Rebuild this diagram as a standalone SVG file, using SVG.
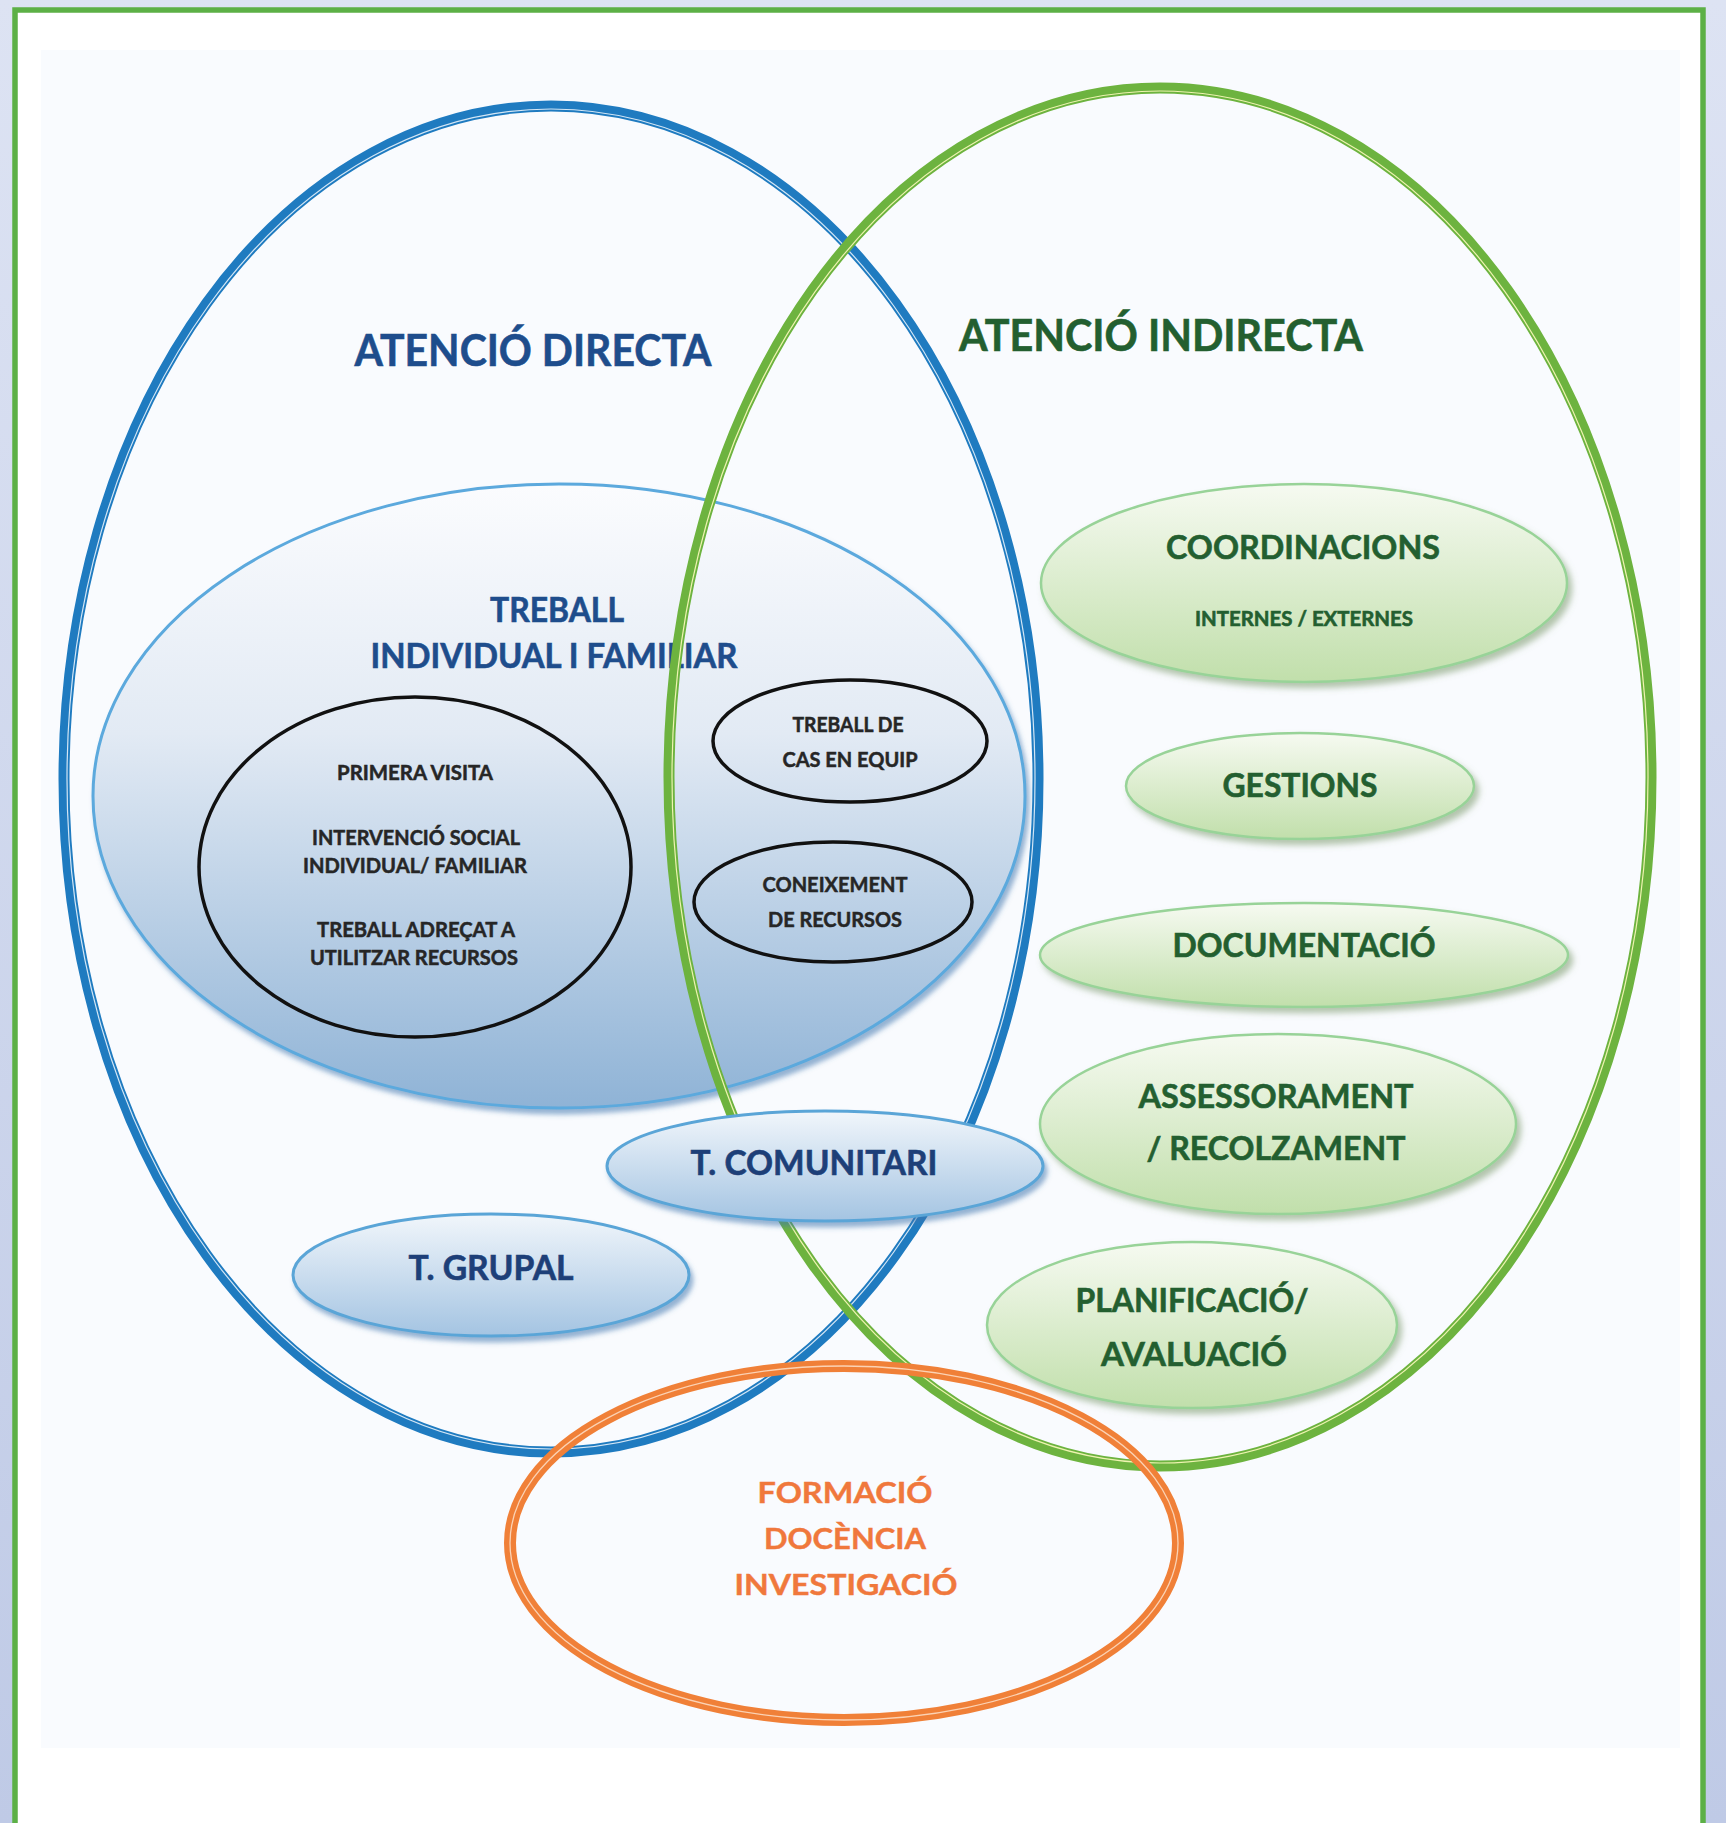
<svg xmlns="http://www.w3.org/2000/svg" width="1726" height="1823" viewBox="0 0 1726 1823">
<defs>
  <linearGradient id="bgGrad" x1="0" y1="0" x2="0" y2="1">
    <stop offset="0" stop-color="#dde3f3"/>
    <stop offset="1" stop-color="#bfcae6"/>
  </linearGradient>
  <linearGradient id="tifGrad" x1="0" y1="0" x2="0" y2="1">
    <stop offset="0" stop-color="#fbfcfe"/>
    <stop offset="0.4" stop-color="#e2eaf4"/>
    <stop offset="1" stop-color="#8fb3d6"/>
  </linearGradient>
  <linearGradient id="blueGrad" x1="0" y1="0" x2="0" y2="1">
    <stop offset="0" stop-color="#f1f6fb"/>
    <stop offset="1" stop-color="#a4c4e2"/>
  </linearGradient>
  <linearGradient id="greenGrad" x1="0" y1="0" x2="0" y2="1">
    <stop offset="0" stop-color="#f6faf1"/>
    <stop offset="1" stop-color="#c1dfab"/>
  </linearGradient>
  <filter id="shBlue" x="-10%" y="-10%" width="120%" height="130%">
    <feDropShadow dx="3" dy="5" stdDeviation="2.5" flood-color="#3d76ae" flood-opacity="0.55"/>
  </filter>
  <filter id="shGreen" x="-10%" y="-10%" width="120%" height="130%">
    <feDropShadow dx="4" dy="5" stdDeviation="3" flood-color="#6b8c58" flood-opacity="0.5"/>
  </filter>
</defs>
<style>
  .t{font-family:Lato,'Open Sans','Liberation Sans',sans-serif;font-weight:700;text-anchor:middle}
  .navy{fill:#1e4d8c;stroke:#1e4d8c;stroke-width:0.6}
  .tnavy{fill:#1d3f78;stroke:#1d3f78;stroke-width:0.6}
  .dgreen{fill:#235f30;stroke:#235f30;stroke-width:0.6}
  .black{fill:#262626;stroke:#262626;stroke-width:0.5}
  .orange{fill:#f0783c;stroke:#f0783c;stroke-width:0.4}
  .bl{fill:none;stroke:#111;stroke-width:3.5}
  .ringB{fill:none;stroke:#1f7bc0;stroke-width:11}
  .ringBi{fill:none;stroke:#d3e6f5;stroke-width:1.2}
  .ringG{fill:none;stroke:#6db33f;stroke-width:11}
  .ringGi{fill:none;stroke:#eef3b0;stroke-width:1.2}
  .ringO{fill:none;stroke:#f08038;stroke-width:12}
  .ringOi{fill:none;stroke:#fbd2b4;stroke-width:1.3}
  .blueNode{fill:url(#blueGrad);stroke:#5aa5d7;stroke-width:3;filter:url(#shBlue)}
  .greenNode{fill:url(#greenGrad);stroke:#98d398;stroke-width:2.5;filter:url(#shGreen)}
</style>

<g id="frame">
  <rect x="0" y="0" width="1726" height="1823" fill="url(#bgGrad)"/>
  <rect x="15" y="10" width="1688" height="1850" fill="#ffffff" stroke="#5cb046" stroke-width="5.5"/>
  <rect x="41" y="50" width="1639" height="1698" fill="#f9fbfe"/>
</g>

<g id="node-treball-individual">
  <ellipse cx="559" cy="796" rx="466" ry="312" fill="url(#tifGrad)" stroke="#5ba9dd" stroke-width="3" filter="url(#shBlue)"/>
  <text class="t navy" x="557" y="622" font-size="34" textLength="134" lengthAdjust="spacingAndGlyphs">TREBALL</text>
  <text class="t navy" x="554" y="668" font-size="34" textLength="367" lengthAdjust="spacingAndGlyphs">INDIVIDUAL I FAMILIAR</text>
</g>

<g id="ring-atencio-directa">
  <ellipse class="ringB" cx="551" cy="779" rx="487" ry="673"/>
  <ellipse class="ringBi" cx="551" cy="779" rx="484" ry="670"/>
  <text class="t navy" x="533" y="366" font-size="44" textLength="357" lengthAdjust="spacingAndGlyphs">ATENCIÓ DIRECTA</text>
</g>

<g id="node-primera-visita">
  <ellipse class="bl" cx="415" cy="867" rx="216" ry="170" fill="#ffffff"/>
  <text class="t black" x="415" y="780" font-size="20" textLength="156" lengthAdjust="spacingAndGlyphs">PRIMERA VISITA</text>
  <text class="t black" x="416" y="845" font-size="20" textLength="208" lengthAdjust="spacingAndGlyphs">INTERVENCIÓ SOCIAL</text>
  <text class="t black" x="415" y="873" font-size="20" textLength="224" lengthAdjust="spacingAndGlyphs">INDIVIDUAL/ FAMILIAR</text>
  <text class="t black" x="416" y="937" font-size="20" textLength="198" lengthAdjust="spacingAndGlyphs">TREBALL ADREÇAT A</text>
  <text class="t black" x="414" y="965" font-size="20" textLength="208" lengthAdjust="spacingAndGlyphs">UTILITZAR RECURSOS</text>
</g>

<g id="node-treball-cas">
  <ellipse class="bl" cx="850" cy="741" rx="137" ry="61" fill="#ffffff"/>
  <text class="t black" x="848" y="732" font-size="21" textLength="111" lengthAdjust="spacingAndGlyphs">TREBALL DE</text>
  <text class="t black" x="850" y="767" font-size="21" textLength="135" lengthAdjust="spacingAndGlyphs">CAS EN EQUIP</text>
</g>

<g id="node-coneixement">
  <ellipse class="bl" cx="833" cy="902" rx="139" ry="60" fill="#ffffff"/>
  <text class="t black" x="835" y="892" font-size="21" textLength="145" lengthAdjust="spacingAndGlyphs">CONEIXEMENT</text>
  <text class="t black" x="835" y="927" font-size="21" textLength="134" lengthAdjust="spacingAndGlyphs">DE RECURSOS</text>
</g>

<g id="ring-atencio-indirecta">
  <ellipse class="ringG" cx="1160" cy="777" rx="491" ry="689"/>
  <ellipse class="ringGi" cx="1160" cy="777" rx="488" ry="686"/>
  <text class="t dgreen" x="1161" y="351" font-size="44" textLength="404" lengthAdjust="spacingAndGlyphs">ATENCIÓ INDIRECTA</text>
</g>

<g id="ring-formacio">
  <ellipse class="ringO" cx="844" cy="1543" rx="334" ry="177"/>
  <ellipse class="ringOi" cx="844" cy="1543" rx="334" ry="177"/>
  <text class="t orange" x="845" y="1503" font-size="28" textLength="175" lengthAdjust="spacingAndGlyphs">FORMACIÓ</text>
  <text class="t orange" x="845" y="1549" font-size="28" textLength="162" lengthAdjust="spacingAndGlyphs">DOCÈNCIA</text>
  <text class="t orange" x="846" y="1595" font-size="28" textLength="223" lengthAdjust="spacingAndGlyphs">INVESTIGACIÓ</text>
</g>

<g id="node-t-comunitari">
  <ellipse class="blueNode" cx="825" cy="1166" rx="218" ry="55"/>
  <text class="t tnavy" x="814" y="1175" font-size="34" textLength="247" lengthAdjust="spacingAndGlyphs">T. COMUNITARI</text>
</g>

<g id="node-t-grupal">
  <ellipse class="blueNode" cx="491" cy="1275" rx="198" ry="61"/>
  <text class="t tnavy" x="491" y="1280" font-size="34" textLength="165" lengthAdjust="spacingAndGlyphs">T. GRUPAL</text>
</g>

<g id="node-coordinacions">
  <ellipse class="greenNode" cx="1304" cy="583" rx="263" ry="99"/>
  <text class="t dgreen" x="1303" y="559" font-size="33" textLength="274" lengthAdjust="spacingAndGlyphs">COORDINACIONS</text>
  <text class="t dgreen" x="1304" y="626" font-size="20" textLength="218" lengthAdjust="spacingAndGlyphs">INTERNES  / EXTERNES</text>
</g>

<g id="node-gestions">
  <ellipse class="greenNode" cx="1300" cy="786" rx="174" ry="53"/>
  <text class="t dgreen" x="1300" y="797" font-size="33" textLength="155" lengthAdjust="spacingAndGlyphs">GESTIONS</text>
</g>

<g id="node-documentacio">
  <ellipse class="greenNode" cx="1304" cy="955" rx="264" ry="52"/>
  <text class="t dgreen" x="1304" y="957" font-size="33" textLength="263" lengthAdjust="spacingAndGlyphs">DOCUMENTACIÓ</text>
</g>

<g id="node-assessorament">
  <ellipse class="greenNode" cx="1278" cy="1124" rx="238" ry="90"/>
  <text class="t dgreen" x="1276" y="1108" font-size="33" textLength="275" lengthAdjust="spacingAndGlyphs">ASSESSORAMENT</text>
  <text class="t dgreen" x="1276" y="1160" font-size="33" textLength="259" lengthAdjust="spacingAndGlyphs">/ RECOLZAMENT</text>
</g>

<g id="node-planificacio">
  <ellipse class="greenNode" cx="1192" cy="1325" rx="205" ry="83"/>
  <text class="t dgreen" x="1192" y="1312" font-size="33" textLength="233" lengthAdjust="spacingAndGlyphs">PLANIFICACIÓ/</text>
  <text class="t dgreen" x="1194" y="1366" font-size="33" textLength="186" lengthAdjust="spacingAndGlyphs">AVALUACIÓ</text>
</g>

<g id="connectors"/>
</svg>
